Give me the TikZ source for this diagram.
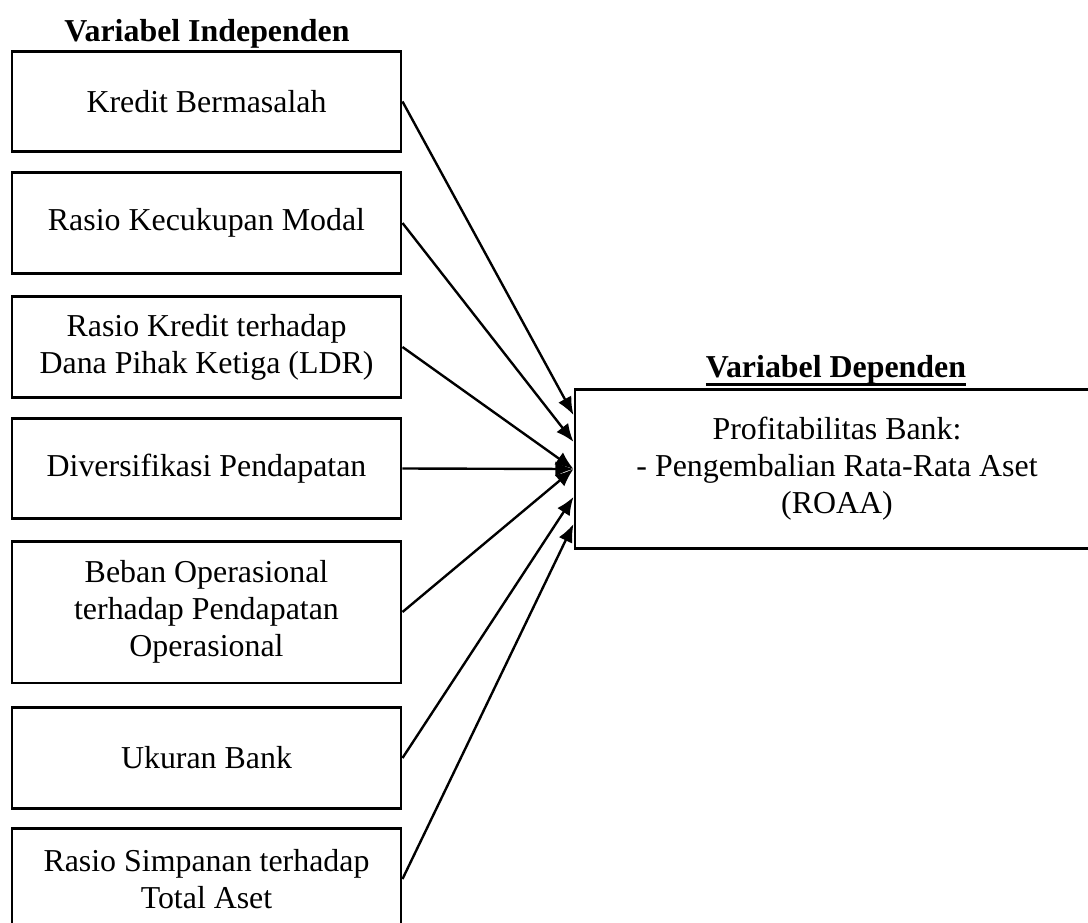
\documentclass[tikz,border=0pt]{standalone}
\usepackage{fontspec}
\setmainfont{Liberation Serif}
\usetikzlibrary{arrows.meta}
\newcommand\thickul[1]{\setbox0\hbox{#1}\leavevmode\rlap{\rule[-3.2pt]{\wd0}{1.1pt}}\box0}
\tikzset{
  varbox/.style={draw, line width=1.1pt, minimum width=146.4pt, minimum height=37.8pt,
    align=center, inner sep=0pt, font=\fontsize{12}{13.9}\selectfont},
  link/.style={line width=0.9pt, -{Latex[length=6.8pt,width=5.6pt]}}
}
\begin{document}
\begin{tikzpicture}[x=0.3763pt, y=-0.3763pt]
\useasboundingbox (0,0) rectangle (1088,922);
% judul
\node[anchor=base, font=\fontsize{12}{14}\selectfont\bfseries] (indep) at (207,41) {Variabel Independen};
\node[anchor=base, font=\fontsize{12}{14}\selectfont\bfseries] (depen) at (836,377) {\thickul{Variabel Dependen}};
% variabel independen
\node[varbox] (kb) at (206.5,101.5) {Kredit Bermasalah};
\node[varbox] (rkm) at (206.5,223) {Rasio Kecukupan Modal};
\node[varbox] (ldr) at (206.5,347) {Rasio Kredit terhadap\\Dana Pihak Ketiga (LDR)};
\node[varbox] (div) at (206.5,468.5) {Diversifikasi Pendapatan};
\node[varbox, minimum height=53.4pt] (bopo) at (206.5,612) {Beban Operasional\\terhadap Pendapatan\\Operasional};
\node[varbox] (ukb) at (206.5,758) {Ukuran Bank};
\node[varbox] (rsta) at (206.5,879) {Rasio Simpanan terhadap\\Total Aset};
% variabel dependen
\node[varbox, minimum width=197.2pt, minimum height=59.5pt] (roaa) at (837,469) {Profitabilitas Bank:\\- Pengembalian Rata-Rata Aset\\(ROAA)};
% panah
\draw[link] (kb.east) -- ([yshift=20.3pt]roaa.west);
\draw[link] (rkm.east) -- ([yshift=10.2pt]roaa.west);
\draw[link] (ldr.east) -- (roaa.west);
\draw[link] (div.east) -- (roaa.west);
\draw[link] (bopo.east) -- (roaa.west);
\draw[link] (ukb.east) -- ([yshift=-10.5pt]roaa.west);
\draw[link] (rsta.east) -- ([yshift=-20.7pt]roaa.west);
\end{tikzpicture}
\end{document}
